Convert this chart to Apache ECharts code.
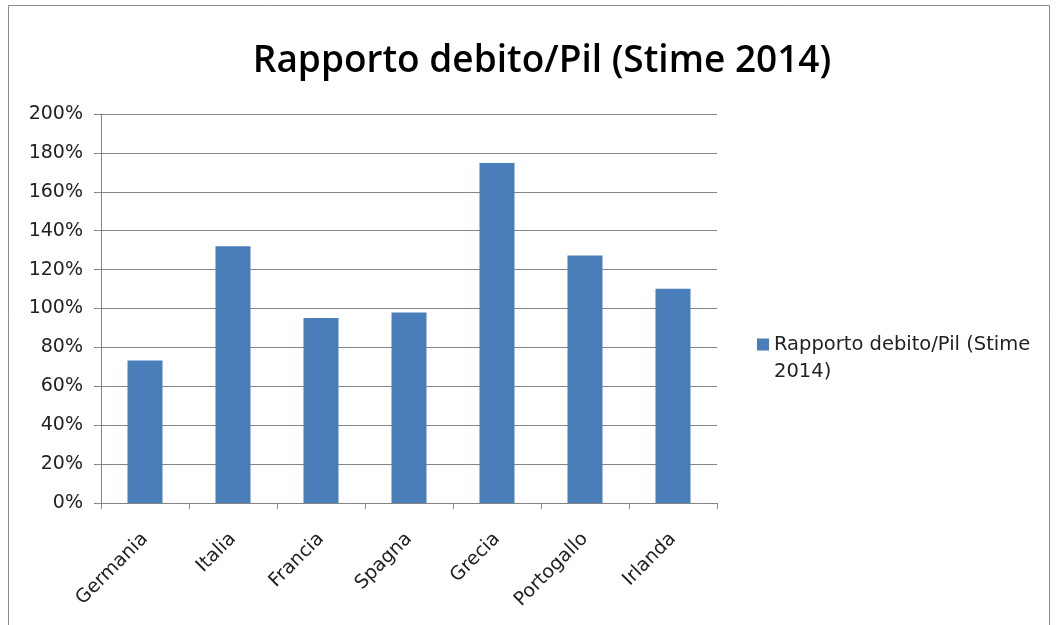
<!DOCTYPE html>
<html>
<head>
<meta charset="utf-8">
<script src="https://cdn.jsdelivr.net/npm/echarts@6/dist/echarts.min.js"></script>
<style>
  html, body { margin: 0; padding: 0; background: #fff; }
  #main { width: 1057px; height: 625px; }
</style>
</head>
<body>
<div id="main"></div>
<script>
const categories = ["Germania", "Italia", "Francia", "Spagna", "Grecia", "Portogallo", "Irlanda"];
const values = [73.3, 132, 95.1, 98, 174.8, 127.3, 110.2];
const seriesName = "Rapporto debito/Pil (Stime 2014)";
const yTicks = [0, 20, 40, 60, 80, 100, 120, 140, 160, 180, 200];

const chart = echarts.init(document.getElementById("main"));

// square sits in the top part of a taller box so it lines up with the first legend line
const legendIcon = "path://M0,0H12V12H0Z M0,39H0.01";

const option = {
  animation: false,
  backgroundColor: "#fff",
  textStyle: { fontFamily: "DejaVu Sans" },
  graphic: [
    {
      type: "rect",
      shape: { x: 8.5, y: 5.5, width: 1041, height: 640 },
      style: { fill: "none", stroke: "#8c8c8c", lineWidth: 1 },
      silent: true
    }
  ],
  title: {
    text: "Rapporto debito/Pil (Stime 2014)",
    left: 537,
    textAlign: "center",
    top: 38,
    textStyle: { fontFamily: "Open Sans", fontSize: 37, fontWeight: 600, color: "#000" }
  },
  legend: {
    left: 752,
    top: 326,
    orient: "vertical",
    icon: legendIcon,
    itemWidth: 12,
    itemHeight: 39,
    itemGap: 4,
    formatter: function () { return "Rapporto debito/Pil (Stime\n2014)"; },
    textStyle: { fontFamily: "DejaVu Sans", fontSize: 19.5, color: "#222", lineHeight: 27 },
    data: [seriesName]
  },
  grid: { left: 101, right: 340, top: 114, bottom: 122, containLabel: false },
  xAxis: {
    type: "category",
    data: categories,
    axisLine: { lineStyle: { color: "#868686", width: 1 } },
    axisTick: { show: true, length: 6, lineStyle: { color: "#868686" } },
    axisLabel: {
      rotate: 45,
      margin: 33,
      fontFamily: "DejaVu Sans",
      fontSize: 19,
      color: "#222"
    }
  },
  yAxis: {
    type: "value",
    min: 0,
    max: 200,
    interval: 20,
    axisLine: { show: true, lineStyle: { color: "#868686", width: 1 } },
    axisTick: { show: true, length: 7, lineStyle: { color: "#868686" } },
    splitLine: { lineStyle: { color: "#868686", width: 1 } },
    axisLabel: {
      margin: 18,
      fontFamily: "DejaVu Sans",
      fontSize: 19,
      color: "#222",
      formatter: function (v) { return yTicks.indexOf(v) >= 0 ? v + "%" : ""; }
    }
  },
  series: [
    {
      name: seriesName,
      type: "bar",
      data: values,
      barWidth: 35,
      itemStyle: { color: "#4A7EBB" }
    }
  ]
};

chart.setOption(option);
</script>
</body>
</html>
